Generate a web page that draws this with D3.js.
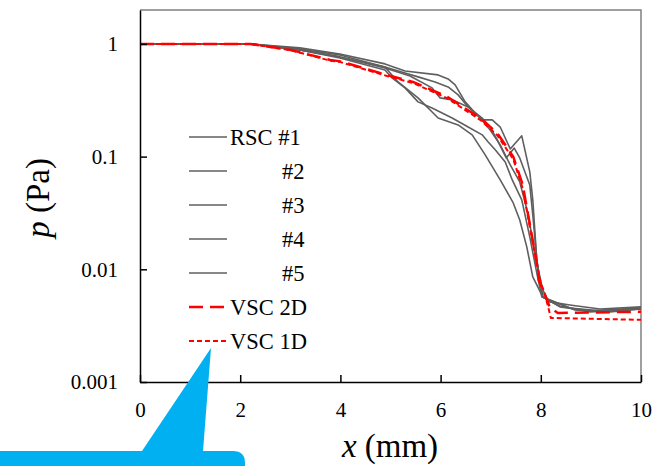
<!DOCTYPE html>
<html>
  <head>
    <meta charset="utf-8" />
    <script src="https://cdn.jsdelivr.net/npm/d3@7/dist/d3.min.js"></script>
    <style>
      body {
        margin: 0;
        background: white;
      }
      text {
        font-family: "Liberation Serif", "Times New Roman", serif;
      }
    </style>
  </head>
  <body>
    <svg id="chart"></svg>
    <script type="text/javascript">
      "use strict";

      // values: [x (mm), p (Pa)]
      const rsc1 = [[0,1],[2.2,1],[3.19,0.922],[3.99,0.815],[4.89,0.665],[5.29,0.576],[5.95,0.531],[6.15,0.489],[6.29,0.433],[6.49,0.306],[6.69,0.244],[6.83,0.212],[7.03,0.212],[7.19,0.183],[7.39,0.117],[7.62,0.153],[7.78,0.0731],[7.84,0.0413],[7.92,0.0121],[8.04,0.00569],[8.18,0.00514],[8.58,0.00483],[9.18,0.00445],[10,0.00464]];
      const rsc2 = [[0,1],[2.2,1],[3.19,0.903],[3.99,0.799],[4.89,0.625],[5.29,0.553],[5.55,0.51],[5.89,0.46],[6.15,0.415],[6.35,0.353],[6.55,0.276],[6.83,0.22],[6.99,0.183],[7.13,0.141],[7.31,0.0974],[7.47,0.119],[7.58,0.0974],[7.78,0.0561],[7.84,0.0304],[7.94,0.00988],[8.04,0.00569],[8.38,0.00464],[8.98,0.00428],[10,0.00454]];
      const rsc3 = [[0,1],[2.2,1],[3.19,0.885],[3.99,0.767],[4.89,0.612],[5.39,0.52],[5.83,0.407],[5.99,0.332],[6.23,0.319],[6.55,0.276],[6.79,0.22],[6.99,0.1725],[7.19,0.127],[7.39,0.0844],[7.58,0.0596],[7.74,0.0317],[7.92,0.0114],[8.04,0.00656],[8.14,0.00535],[8.38,0.00473],[8.98,0.00419],[10,0.00445]];
      const rsc4 = [[0,1],[2.2,1],[3.19,0.885],[3.99,0.751],[4.89,0.588],[5.03,0.499],[5.29,0.407],[5.55,0.306],[5.83,0.27],[6.23,0.22],[6.55,0.183],[6.83,0.156],[6.95,0.135],[7.09,0.115],[7.29,0.0897],[7.43,0.0621],[7.62,0.0413],[7.78,0.0194],[7.92,0.00929],[8.02,0.00569],[8.58,0.00454],[9.18,0.00428],[10,0.00454]];
      const rsc5 = [[0,1],[2.2,1],[3.19,0.885],[3.99,0.767],[4.89,0.625],[5.15,0.46],[5.55,0.332],[5.95,0.22],[6.35,0.191],[6.63,0.156],[6.89,0.1035],[7.19,0.0621],[7.45,0.0388],[7.58,0.0274],[7.72,0.0158],[7.84,0.00857],[8.04,0.00569],[8.68,0.00436],[9.38,0.00419],[10,0.00445]];
      const vsc2d = [[0,1],[2.2,1],[3.0,0.885],[3.8,0.72],[4.0,0.70],[4.93,0.53],[5.45,0.46],[6.13,0.34],[6.79,0.22],[7.13,0.162],[7.45,0.1],[7.64,0.056],[7.92,0.0114],[7.96,0.008],[8.1,0.0057],[8.18,0.0046],[8.34,0.0041],[10,0.0042]];
      const vsc1d = [[0,1],[2.2,1],[3.0,0.88],[3.8,0.71],[4.0,0.69],[4.93,0.52],[5.45,0.45],[6.13,0.33],[6.79,0.212],[7.13,0.155],[7.45,0.095],[7.64,0.052],[7.92,0.011],[8.0,0.0075],[8.06,0.0065],[8.16,0.0044],[8.2,0.0037],[10,0.00356]];

      const seriesNames = ["RSC #1", "#2", "#3", "#4", "#5", "VSC 2D", "VSC 1D"];
      const seriesData = [rsc1, rsc2, rsc3, rsc4, rsc5, vsc2d, vsc1d];

      const xTicks = [0, 2, 4, 6, 8, 10];
      const yTicks = [1, 0.1, 0.01, 0.001];
      const yTickLabels = ["1", "0.1", "0.01", "0.001"];

      const width = 657,
        height = 466;

      const gray = "#5f5f5f",
        red = "#ff0000";

      const styles = [
        { color: gray, w: 1.6, dash: null },
        { color: gray, w: 1.6, dash: null },
        { color: gray, w: 1.6, dash: null },
        { color: gray, w: 1.6, dash: null },
        { color: gray, w: 1.6, dash: null },
        { color: red, w: 2.5, dash: "14,7" },
        { color: red, w: 2, dash: "5,3" }
      ];

      const svg = d3
        .select("#chart")
        .attr("width", width)
        .attr("height", height);

      const x = d3.scaleLinear().domain([0, 10]).range([140, 641]);
      const y = d3.scaleLog().domain([0.001, 2]).range([382, 10]);

      // top and right frame
      svg
        .append("path")
        .attr("d", `M${x(0)},${y(2)}H${x(10)}V${y(0.001)}`)
        .attr("fill", "none")
        .attr("stroke", "#808080")
        .attr("stroke-width", 1.5);

      const line = d3
        .line()
        .x(d => x(d[0]))
        .y(d => y(d[1]));

      svg
        .append("g")
        .selectAll("path")
        .data(seriesData)
        .join("path")
        .attr("d", line)
        .attr("fill", "none")
        .attr("stroke", (d, i) => styles[i].color)
        .attr("stroke-width", (d, i) => styles[i].w)
        .attr("stroke-dasharray", (d, i) => styles[i].dash)
        .attr("stroke-linejoin", "round");

      const yAxis = svg
        .append("g")
        .attr("transform", `translate(${x(0)},0)`)
        .call(
          d3
            .axisLeft(y)
            .tickValues(yTicks)
            .tickFormat((d, i) => yTickLabels[i])
            .tickSize(-7)
            .tickSizeOuter(0)
            .tickPadding(22)
        );

      const xAxis = svg
        .append("g")
        .attr("transform", `translate(0,${y(0.001)})`)
        .call(
          d3
            .axisBottom(x)
            .tickValues(xTicks)
            .tickSize(-7)
            .tickSizeOuter(0)
            .tickPadding(20)
        );

      [xAxis, yAxis].forEach(a => {
        a.selectAll("path, line").attr("stroke", "#000").attr("stroke-width", 1.5);
        a.selectAll("text")
          .attr("fill", "#000")
          .style("font-size", "21px")
          .style("font-family", '"Liberation Serif", serif');
      });

      // legend
      const legend = svg.append("g");
      const rowY = i => 137 + i * 34;

      legend
        .selectAll("line")
        .data(seriesNames)
        .join("line")
        .attr("x1", 189)
        .attr("x2", 227)
        .attr("y1", (d, i) => rowY(i))
        .attr("y2", (d, i) => rowY(i))
        .attr("stroke", (d, i) => styles[i].color)
        .attr("stroke-width", (d, i) => styles[i].w)
        .attr("stroke-dasharray", (d, i) => styles[i].dash);

      legend
        .selectAll("text")
        .data(seriesNames)
        .join("text")
        .attr("x", d => (d.startsWith("#") ? 282 : 230))
        .attr("y", (d, i) => rowY(i) + 7.5)
        .style("font-size", "22.5px")
        .text(d => d);

      // axis titles
      const yTitle = svg
        .append("text")
        .attr("transform", "translate(49,198) rotate(-90)")
        .attr("text-anchor", "middle")
        .style("font-size", "33px");
      yTitle.append("tspan").style("font-style", "italic").text("p");
      yTitle.append("tspan").text(" (Pa)");

      const xTitle = svg
        .append("text")
        .attr("x", 390)
        .attr("y", 457)
        .attr("text-anchor", "middle")
        .style("font-size", "33px");
      xTitle.append("tspan").style("font-style", "italic").text("x");
      xTitle.append("tspan").text(" (mm)");

      // blue callout
      svg
        .append("path")
        .attr(
          "d",
          "M-6,451H233Q245,451 245,463V480H-6Z M142,451L211,348L203,451Z"
        )
        .attr("fill", "#00b0f0");
    </script>
  </body>
</html>
